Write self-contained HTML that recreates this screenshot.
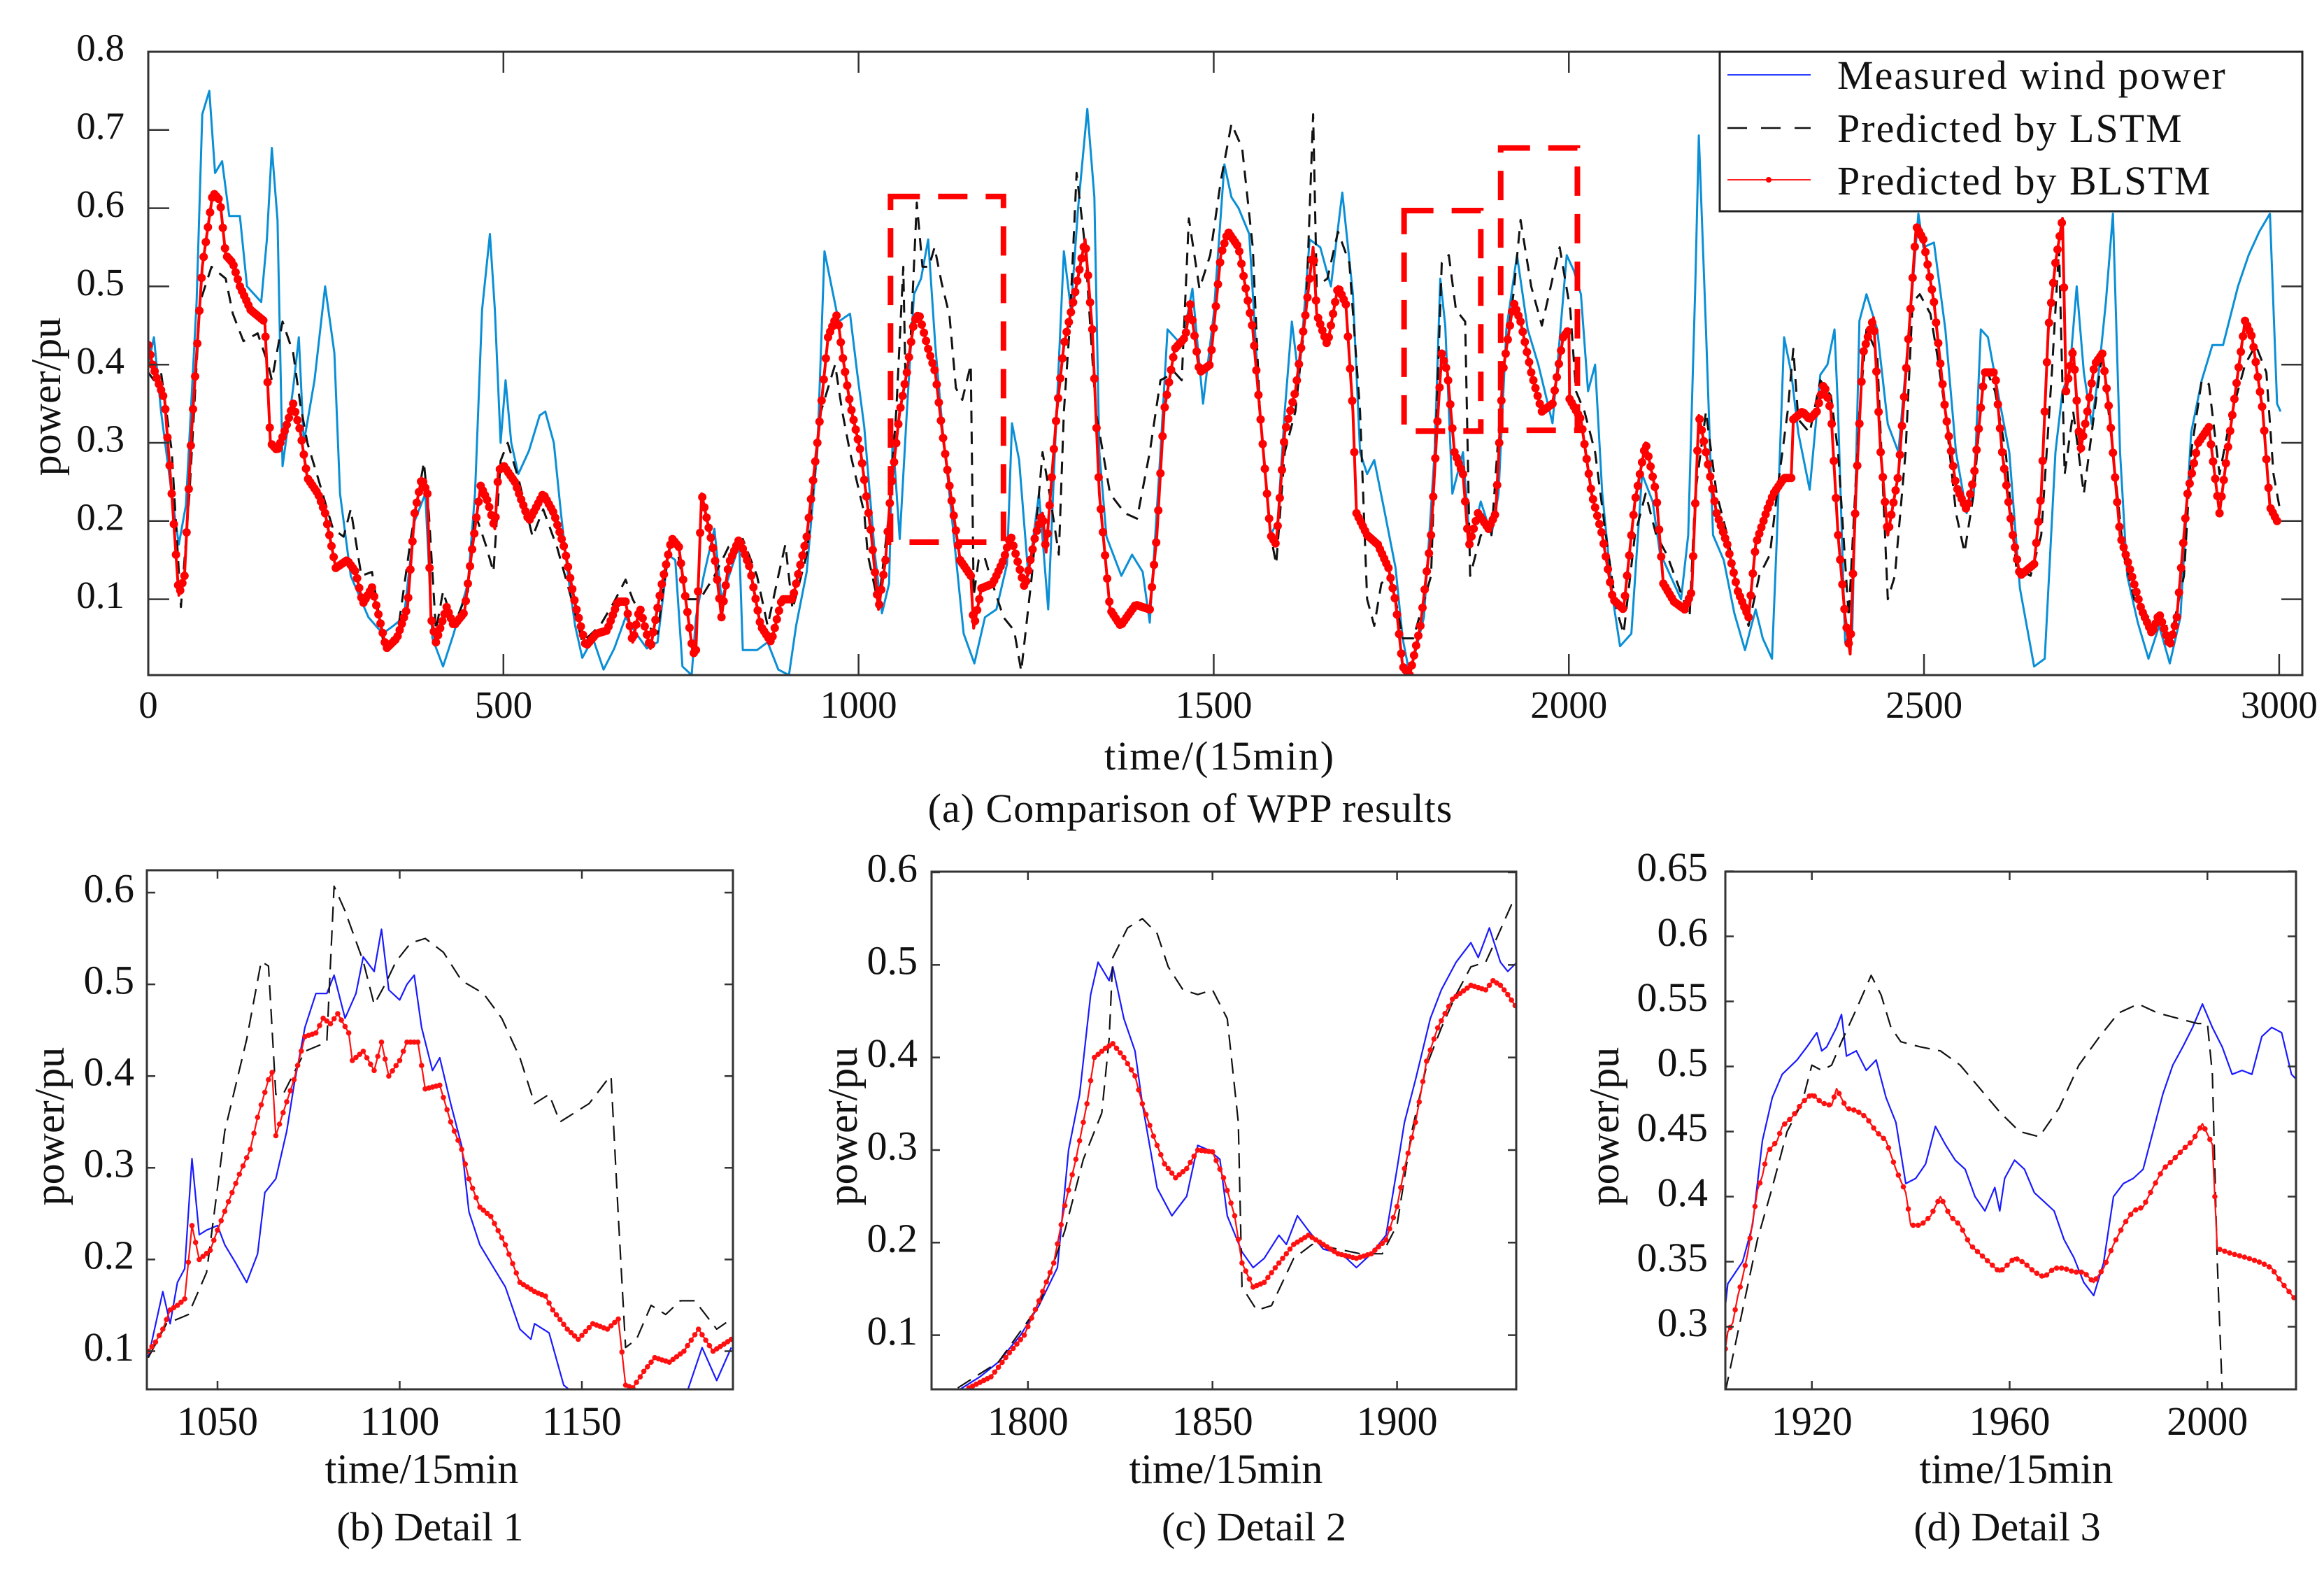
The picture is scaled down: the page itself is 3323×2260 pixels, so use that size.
<!DOCTYPE html>
<html><head><meta charset="utf-8">
<style>
html,body{margin:0;padding:0;background:#fff;}
svg, svg text{font-family:"Liberation Serif","Times New Roman",serif !important;}
svg text{fill:#111;}
</style></head>
<body>
<svg id="fig" xmlns="http://www.w3.org/2000/svg" width="3323" height="2255" viewBox="0 0 3323 2255" font-family="Liberation Serif, serif">
<rect x="0" y="0" width="3323" height="2255" fill="#fff"/>
<defs>
<clipPath id="clipMain"><rect x="212" y="74" width="3080" height="891"/></clipPath>
<clipPath id="clipD1"><rect x="210" y="1244" width="838" height="742"/></clipPath>
<clipPath id="clipD2"><rect x="1332" y="1246" width="836" height="740"/></clipPath>
<clipPath id="clipD3"><rect x="2467" y="1246" width="816" height="740"/></clipPath>
</defs>
<g id="main"></g>
<g id="d1"></g>
<g id="d2"></g>
<g id="d3"></g>

<text x="72" y="567" font-size="60" text-anchor="middle" dominant-baseline="middle" transform="rotate(-90 72 567)">power/pu</text>
<text x="1744" y="1100" font-size="58" letter-spacing="2" text-anchor="middle">time/(15min)</text>
<text x="1702" y="1175" font-size="58" letter-spacing="1" text-anchor="middle">(a) Comparison of WPP results</text>

<text x="77" y="1610" font-size="60" text-anchor="middle" dominant-baseline="middle" transform="rotate(-90 77 1610)">power/pu</text>
<text x="603" y="2120" font-size="60" text-anchor="middle">time/15min</text>
<text x="615" y="2202" font-size="58" text-anchor="middle">(b) Detail 1</text>

<text x="1211" y="1610" font-size="60" text-anchor="middle" dominant-baseline="middle" transform="rotate(-90 1211 1610)">power/pu</text>
<text x="1753" y="2120" font-size="60" text-anchor="middle">time/15min</text>
<text x="1793" y="2202" font-size="58" text-anchor="middle">(c) Detail 2</text>

<text x="2300" y="1610" font-size="60" text-anchor="middle" dominant-baseline="middle" transform="rotate(-90 2300 1610)">power/pu</text>
<text x="2883" y="2120" font-size="60" text-anchor="middle">time/15min</text>
<text x="2870" y="2202" font-size="58" text-anchor="middle">(d) Detail 3</text>

<g id="legend">
<rect x="2459" y="74" width="833" height="228" fill="#fff" stroke="#222" stroke-width="3"/>
<line x1="2470" y1="107" x2="2589" y2="107" stroke="#2a40ff" stroke-width="2"/>
<line x1="2470" y1="183" x2="2589" y2="183" stroke="#111" stroke-width="2.5" stroke-dasharray="28,20"/>
<line x1="2470" y1="257" x2="2589" y2="257" stroke="#ff2020" stroke-width="2"/>
<circle cx="2529" cy="257" r="4" fill="#ff0000"/>
<text x="2627" y="127" font-size="58" letter-spacing="2">Measured wind power</text>
<text x="2627" y="203" font-size="58" letter-spacing="2">Predicted by LSTM</text>
<text x="2627" y="278" font-size="58" letter-spacing="2">Predicted by BLSTM</text>
</g>
</svg>
<script>
// ===== Main chart data =====
const mainMeasT=[0,8,18,33,43,53,68,76,86,94,104,114,129,139,159,167,174,182,189,204,212,219,234,249,262,270,285,310,330,345,360,375,390,400,415,430,450,460,470,481,488,496,503,511,521,536,551,559,571,581,591,601,611,626,641,656,672,687,702,717,732,742,752,765,771,782,797,807,832,837,857,872,887,902,912,927,942,952,962,972,988,998,1008,1023,1033,1043,1048,1058,1068,1078,1088,1098,1108,1118,1133,1148,1163,1178,1194,1209,1216,1226,1239,1254,1267,1279,1289,1299,1309,1322,1332,1339,1349,1370,1385,1400,1410,1425,1435,1455,1470,1485,1500,1515,1525,1535,1550,1565,1580,1590,1600,1610,1620,1635,1650,1665,1681,1696,1706,1716,1726,1741,1756,1766,1776,1796,1811,1819,1826,1836,1851,1861,1876,1891,1901,1912,1927,1942,1957,1977,1997,2007,2017,2027,2037,2047,2062,2072,2088,2103,2118,2128,2143,2158,2168,2178,2183,2193,2203,2218,2233,2248,2263,2273,2286,2293,2303,2313,2323,2339,2354,2364,2374,2379,2389,2399,2409,2419,2434,2449,2464,2479,2492,2499,2514,2530,2545,2560,2570,2580,2590,2605,2620,2635,2655,2670,2685,2695,2705,2715,2725,2736,2746,2756,2766,2776,2786,2801,2816,2831,2846,2861,2876,2891,2906,2921,2942,2957,2972,2987,2997,3002];
const mainMeasV=[.40,.435,.34,.235,.17,.22,.48,.72,.75,.645,.66,.59,.59,.50,.48,.56,.677,.585,.27,.37,.435,.30,.38,.50,.415,.235,.13,.077,.056,.066,.077,.20,.235,.05,.014,.056,.12,.235,.47,.567,.47,.30,.38,.30,.26,.29,.335,.34,.30,.21,.13,.066,.025,.05,.01,.037,.077,.056,.037,.045,.157,.15,.014,.003,.077,.13,.19,.10,.17,.035,.035,.045,.01,.003,.066,.135,.29,.545,.50,.455,.465,.39,.32,.157,.082,.12,.31,.177,.34,.49,.51,.56,.425,.32,.19,.056,.018,.077,.087,.145,.325,.278,.13,.235,.087,.345,.545,.47,.60,.727,.614,.288,.18,.13,.157,.135,.07,.288,.445,.425,.497,.35,.465,.656,.614,.60,.567,.34,.182,.20,.34,.455,.38,.56,.55,.50,.62,.49,.288,.26,.278,.21,.14,.05,.003,.077,.288,.51,.45,.235,.288,.167,.225,.182,.235,.445,.54,.445,.40,.325,.54,.52,.49,.366,.40,.235,.10,.04,.056,.26,.225,.16,.13,.10,.182,.50,.693,.445,.182,.15,.082,.035,.087,.05,.024,.182,.435,.39,.313,.24,.387,.40,.445,.34,.045,.06,.456,.49,.445,.324,.288,.445,.593,.55,.556,.445,.288,.21,.235,.445,.435,.36,.288,.114,.014,.024,.288,.366,.39,.50,.39,.324,.39,.48,.593,.288,.13,.07,.024,.066,.018,.077,.313,.38,.425,.425,.50,.54,.57,.593,.35,.34];
const mainLstmT=[0,8,18,33,46,58,73,89,109,119,134,154,169,174,189,204,214,224,239,260,275,285,300,315,330,350,370,388,395,405,415,430,450,460,475,486,496,506,521,541,556,576,596,611,636,656,672,682,702,717,732,742,757,777,797,817,837,857,872,887,897,907,927,947,967,977,988,1008,1013,1028,1043,1053,1063,1066,1073,1082,1090,1099,1107,1117,1128,1137,1146,1158,1162,1169,1177,1187,1204,1219,1229,1244,1259,1269,1282,1289,1297,1307,1319,1334,1354,1375,1392,1410,1425,1445,1455,1465,1480,1495,1510,1525,1540,1555,1565,1580,1588,1600,1615,1630,1640,1645,1660,1675,1691,1706,1716,1726,1736,1746,1756,1766,1781,1806,1821,1831,1841,1854,1861,1876,1891,1907,1922,1932,1947,1962,1977,1987,2002,2010,2022,2037,2052,2067,2077,2093,2108,2123,2138,2153,2170,2178,2193,2208,2223,2238,2253,2268,2283,2293,2308,2316,2323,2339,2354,2369,2379,2394,2409,2419,2434,2449,2459,2474,2484,2494,2509,2519,2530,2545,2557,2570,2585,2600,2615,2630,2650,2665,2680,2690,2698,2710,2725,2740,2751,2766,2781,2796,2816,2836,2851,2866,2876,2891,2901,2916,2931,2952,2967,2982,2992,3002];
const mainLstmV=[.39,.38,.39,.29,.09,.235,.48,.525,.51,.465,.43,.44,.40,.38,.455,.415,.35,.30,.255,.19,.18,.215,.13,.135,.05,.05,.18,.275,.21,.06,.11,.066,.11,.21,.17,.135,.277,.30,.255,.18,.215,.165,.10,.045,.066,.097,.125,.10,.066,.056,.16,.178,.10,.10,.13,.167,.177,.13,.066,.13,.17,.087,.157,.34,.40,.34,.288,.21,.157,.093,.21,.34,.525,.38,.427,.607,.525,.525,.55,.504,.463,.37,.355,.40,.104,.15,.155,.124,.077,.06,.008,.13,.288,.235,.157,.34,.445,.645,.55,.34,.235,.21,.203,.288,.38,.39,.38,.587,.497,.54,.635,.708,.677,.55,.34,.182,.145,.288,.34,.47,.72,.50,.51,.57,.53,.34,.10,.066,.12,.13,.10,.05,.05,.13,.53,.54,.47,.455,.13,.182,.182,.39,.49,.585,.50,.45,.51,.55,.47,.366,.34,.288,.182,.087,.056,.182,.235,.182,.157,.12,.077,.235,.34,.235,.182,.11,.066,.13,.157,.235,.34,.42,.33,.313,.38,.36,.288,.077,.34,.445,.414,.10,.13,.288,.48,.49,.465,.41,.34,.21,.16,.235,.40,.366,.288,.14,.13,.182,.39,.55,.26,.34,.235,.34,.414,.288,.157,.10,.077,.066,.066,.13,.288,.38,.375,.26,.33,.40,.425,.39,.26,.21];
const mainBlstmT=[0,6,13,23,33,43,51,61,76,91,101,109,119,129,144,164,172,182,194,204,214,224,239,249,264,280,292,302,315,325,335,350,365,375,385,393,398,405,420,430,445,455,468,478,488,493,501,516,536,556,571,586,601,616,631,646,661,672,682,692,707,722,737,747,757,767,771,779,787,797,807,817,832,847,862,877,892,907,927,942,957,970,977,988,1003,1018,1028,1038,1045,1058,1068,1078,1085,1098,1108,1118,1128,1143,1158,1162,1173,1189,1204,1214,1234,1249,1259,1264,1279,1289,1304,1319,1329,1339,1354,1369,1390,1410,1420,1430,1445,1460,1467,1480,1495,1510,1520,1535,1555,1570,1580,1588,1600,1615,1630,1640,1645,1660,1675,1686,1696,1701,1716,1731,1746,1756,1766,1776,1791,1806,1814,1821,1829,1839,1851,1859,1872,1887,1897,1907,1922,1932,1947,1962,1977,1992,2000,2001,2017,2032,2047,2062,2077,2093,2108,2123,2133,2148,2163,2173,2183,2193,2208,2223,2238,2253,2263,2279,2288,2303,2313,2316,2329,2339,2349,2359,2369,2379,2389,2396,2404,2414,2429,2439,2449,2464,2479,2489,2499,2514,2530,2545,2560,2570,2585,2600,2610,2625,2635,2655,2665,2675,2685,2695,2700,2710,2720,2730,2740,2751,2761,2776,2791,2806,2821,2831,2846,2856,2871,2886,2901,2916,2927,2942,2952,2962,2977,2987,2997];
const mainBlstmV=[.425,.40,.38,.355,.235,.105,.13,.315,.525,.62,.61,.54,.53,.50,.47,.455,.30,.29,.32,.35,.315,.255,.235,.21,.14,.15,.135,.094,.115,.077,.037,.05,.09,.21,.255,.235,.077,.045,.09,.066,.083,.157,.245,.225,.19,.265,.27,.25,.20,.235,.21,.165,.094,.04,.056,.06,.097,.097,.045,.09,.037,.115,.178,.167,.097,.03,.035,.235,.20,.157,.077,.145,.177,.14,.066,.045,.10,.10,.18,.30,.435,.465,.414,.35,.288,.182,.087,.15,.235,.34,.39,.455,.465,.42,.39,.313,.245,.15,.13,.063,.114,.12,.15,.182,.114,.182,.21,.16,.34,.425,.488,.56,.445,.235,.087,.066,.093,.087,.182,.34,.42,.435,.477,.39,.40,.54,.57,.55,.445,.288,.182,.17,.313,.366,.47,.55,.465,.425,.50,.477,.34,.21,.182,.17,.14,.097,.014,.003,.066,.182,.313,.414,.39,.288,.26,.167,.21,.19,.21,.39,.48,.455,.39,.34,.35,.435,.445,.356,.33,.235,.182,.10,.087,.225,.30,.235,.12,.097,.087,.11,.335,.288,.21,.17,.11,.077,.17,.214,.235,.255,.255,.33,.34,.33,.34,.376,.34,.182,.077,.03,.235,.414,.46,.288,.182,.26,.445,.577,.56,.48,.34,.245,.214,.255,.39,.39,.288,.182,.13,.145,.235,.445,.53,.587,.366,.42,.288,.34,.40,.414,.34,.182,.135,.087,.056,.082,.04,.077,.235,.30,.32,.21,.288,.39,.456,.435,.34,.218,.20];
const mainYTicks=[0.1,0.2,0.3,0.4,0.5,0.6,0.7,0.8];
const mainXTicks=[0,500,1000,1500,2000,2500,3000];
// zoom boxes (time start, time end, value low, value high)
const boxT0=[1045,1768,1904];
const boxT1=[1204,1876,2012];
const boxVlo=[0.173,0.315,0.316];
const boxVhi=[0.615,0.597,0.677];

// ===== Detail 1 data =====
const d1MeasT=[1031,1035,1037,1039,1041,1043,1045,1047,1050,1052,1055,1058,1061,1063,1066,1069,1071,1074,1077,1080,1082,1085,1088,1090,1093,1095,1097,1100,1102,1104,1106,1109,1111,1114,1117,1119,1122,1125,1129,1133,1136,1137,1141,1145,1149,1156,1165,1179,1183,1187,1191];
const d1MeasV=[.093,.165,.13,.175,.19,.31,.227,.232,.237,.216,.196,.175,.206,.273,.288,.34,.39,.453,.49,.49,.51,.463,.49,.53,.514,.56,.494,.483,.50,.51,.453,.406,.42,.37,.324,.252,.216,.196,.17,.124,.113,.13,.12,.063,.05,.04,.04,.057,.104,.068,.104];
const d1LstmT=[1031,1036,1042,1047,1052,1058,1062,1064,1066,1068,1074,1080,1082,1085,1090,1093,1096,1099,1103,1107,1112,1117,1123,1128,1133,1137,1141,1144,1146,1152,1157,1158,1160,1162,1165,1169,1173,1177,1181,1187,1191];
const d1LstmV=[.093,.13,.14,.186,.34,.44,.525,.52,.38,.38,.427,.437,.607,.58,.525,.478,.50,.525,.545,.55,.535,.504,.49,.463,.42,.37,.38,.35,.355,.37,.396,.40,.247,.104,.113,.15,.14,.155,.155,.124,.135];
const d1BlstmT=[1031,1033,1035,1037,1039,1041,1043,1045,1048,1050,1053,1056,1059,1061,1064,1065,1066,1068,1071,1074,1077,1079,1081,1083,1086,1087,1090,1093,1095,1097,1100,1102,1105,1107,1111,1114,1117,1119,1122,1125,1129,1133,1137,1140,1142,1146,1149,1153,1157,1160,1162,1164,1167,1170,1174,1178,1182,1186,1191];
const d1BlstmV=[.10,.11,.124,.145,.15,.157,.237,.20,.21,.232,.263,.293,.32,.355,.396,.404,.335,.36,.396,.443,.447,.463,.457,.468,.447,.417,.427,.406,.437,.40,.417,.437,.437,.386,.39,.35,.32,.288,.257,.247,.216,.175,.165,.16,.145,.124,.113,.13,.124,.135,.063,.06,.078,.093,.088,.10,.124,.10,.113];
const d1XTicks=[1050,1100,1150];
const d1YTicks=[0.1,0.2,0.3,0.4,0.5,0.6];

// ===== Detail 2 data =====
const d2MeasT=[1781,1787,1792,1798,1803,1808,1811,1814,1817,1819,1822,1823,1826,1829,1831,1835,1839,1843,1846,1849,1852,1854,1858,1861,1864,1868,1870,1873,1876,1880,1885,1889,1893,1897,1900,1902,1905,1909,1912,1916,1920,1922,1925,1928,1930,1933];
const d2MeasV=[.04,.055,.071,.10,.132,.173,.30,.36,.468,.503,.483,.498,.442,.407,.35,.259,.229,.25,.305,.30,.29,.229,.19,.173,.183,.208,.198,.229,.213,.193,.188,.173,.188,.208,.28,.33,.376,.442,.473,.503,.524,.508,.54,.503,.493,.505];
const d2LstmT=[1781,1792,1803,1810,1815,1820,1822,1823,1827,1831,1835,1838,1842,1846,1850,1854,1857,1858,1862,1866,1872,1877,1884,1890,1896,1900,1904,1908,1912,1916,1920,1924,1927,1931,1933];
const d2LstmV=[.043,.071,.132,.213,.29,.34,.42,.508,.54,.55,.534,.498,.473,.468,.473,.442,.33,.152,.127,.132,.183,.198,.193,.188,.188,.219,.32,.391,.432,.468,.498,.503,.529,.565,.56];
const d2BlstmT=[1784,1790,1795,1799,1803,1807,1810,1813,1816,1818,1821,1823,1826,1829,1831,1834,1837,1840,1843,1846,1850,1853,1856,1858,1861,1864,1868,1872,1876,1880,1884,1889,1893,1897,1900,1902,1905,1908,1911,1915,1920,1924,1926,1928,1930,1933];
const d2BlstmV=[.043,.055,.081,.10,.137,.178,.24,.29,.35,.40,.41,.415,.40,.38,.35,.315,.285,.27,.28,.30,.298,.27,.229,.178,.152,.157,.178,.198,.208,.198,.188,.183,.188,.203,.239,.28,.33,.396,.432,.463,.478,.473,.483,.478,.468,.45];
const d2XTicks=[1800,1850,1900];
const d2YTicks=[0.1,0.2,0.3,0.4,0.5,0.6];

// ===== Detail 3 data =====
const d3MeasT=[1902.5,1903,1906,1908,1910,1912,1914,1917,1919,1921,1922,1923,1925,1926,1927,1929,1931,1933,1935,1937,1939,1941,1943,1945,1947,1949,1951,1953,1955,1957,1958,1959,1961,1963,1965,1967,1969,1971,1973,1975,1977,1979,1981,1983,1985,1987,1989,1991,1993,1995,1997,1999,2001,2003,2005,2007,2009,2011,2013,2015,2017,2018];
const d3MeasV=[.316,.333,.35,.378,.443,.476,.494,.505,.515,.526,.512,.515,.53,.54,.508,.512,.497,.505,.476,.457,.41,.414,.425,.454,.44,.428,.421,.40,.389,.407,.389,.414,.428,.421,.403,.396,.389,.367,.353,.334,.324,.349,.40,.41,.414,.421,.45,.479,.501,.515,.53,.548,.53,.515,.494,.497,.494,.523,.53,.526,.494,.49];
const d3LstmT=[1902.5,1906,1909,1912,1915,1918,1920,1922,1924,1926,1929,1932,1934,1936,1938,1942,1946,1950,1954,1958,1962,1966,1970,1974,1978,1982,1986,1990,1994,1998,2000,2001,2002,2003];
const d3LstmV=[.25,.313,.367,.407,.45,.472,.501,.497,.501,.519,.544,.57,.555,.53,.519,.515,.512,.501,.483,.465,.45,.446,.468,.501,.522,.541,.548,.541,.537,.533,.533,.494,.35,.25];
const d3BlstmT=[1902.5,1903,1904,1905,1906,1907,1908,1909,1910,1911,1913,1914,1916,1918,1920,1922,1924,1925,1927,1929,1931,1933,1935,1937,1939,1940,1942,1944,1946,1948,1950,1952,1954,1956,1958,1960,1961,1963,1965,1967,1969,1971,1973,1975,1977,1979,1981,1983,1985,1987,1989,1991,1993,1995,1997,1999,2001,2002,2005,2008,2011,2013,2015,2018];
const d3BlstmV=[.283,.296,.303,.323,.338,.356,.38,.405,.416,.434,.443,.454,.461,.472,.479,.472,.47,.483,.468,.466,.461,.45,.443,.421,.403,.378,.378,.385,.40,.385,.378,.363,.356,.349,.342,.349,.353,.349,.342,.338,.345,.345,.342,.342,.334,.345,.363,.378,.389,.392,.407,.421,.428,.436,.443,.456,.44,.36,.356,.353,.349,.345,.334,.32];
const d3XTicks=[1920,1960,2000];
const d3YTicks=[0.3,0.35,0.4,0.45,0.5,0.55,0.6,0.65];

const NS='http://www.w3.org/2000/svg';
const FONT='Liberation Serif, serif';
function mk(tag,attrs,parent){const e=document.createElementNS(NS,tag);for(const k in attrs)e.setAttribute(k,attrs[k]);parent.appendChild(e);return e;}
function linScale(d0,d1,r0,r1){return v=>r0+(v-d0)*(r1-r0)/(d1-d0);}

function pathD(ts,vs,xs,ys){let d='';for(let i=0;i<ts.length;i++){d+=(i?'L':'M')+xs(ts[i]).toFixed(1)+','+ys(vs[i]).toFixed(1);}return d;}
function resample(ts,vs,step){const out=[];let j=0;for(let t=ts[0];t<=ts[ts.length-1];t+=step){while(j<ts.length-2&&ts[j+1]<t)j++;const f=(t-ts[j])/((ts[j+1]-ts[j])||1);out.push([t,vs[j]+(vs[j+1]-vs[j])*Math.max(0,Math.min(1,f))]);}return out;}

function axes(g,box,xs,ys,xt,yt,fmtY,tickLen,fs,prefix,yLabelX,xLabelY){
  const [L,T,R,B]=box;
  const fr=mk('rect',{x:L,y:T,width:R-L,height:B-T,fill:'none',stroke:'#333','stroke-width':3},g);
  
  
  xt.forEach(t=>{const x=xs(t);
    const a=mk('line',{x1:x,y1:B,x2:x,y2:B-tickLen,stroke:'#333','stroke-width':2.5},g);
    
    
    const b=mk('line',{x1:x,y1:T,x2:x,y2:T+tickLen,stroke:'#333','stroke-width':2.5},g);
    
    
    const tx=mk('text',{x:x,y:xLabelY,'font-size':fs,'text-anchor':'middle','font-family':FONT},g);tx.textContent=String(t);
    
    
  });
  yt.forEach(v=>{const y=ys(v);
    const a=mk('line',{x1:L,y1:y,x2:L+tickLen,y2:y,stroke:'#333','stroke-width':2.5},g);
    
    
    const b=mk('line',{x1:R,y1:y,x2:R-tickLen,y2:y,stroke:'#333','stroke-width':2.5},g);
    
    
    const tx=mk('text',{x:yLabelX,y:y,'font-size':fs,'text-anchor':'end','dominant-baseline':'middle','font-family':FONT},g);tx.textContent=fmtY(v);
    
    
  });
}

function series(g,clip,ts,vs,xs,ys,opt,prefix,name){
  const sg=mk('g',{'clip-path':'url(#'+clip+')'},g);
  
  
  const p=mk('path',{d:pathD(ts,vs,xs,ys),fill:'none',stroke:opt.color,'stroke-width':opt.w,'stroke-linejoin':'round'},sg);
  if(opt.dash)p.setAttribute('stroke-dasharray',opt.dash);
  
  
  if(opt.marker){
    resample(ts,vs,opt.step).forEach(([t,v])=>{
      const c=mk('circle',{cx:xs(t).toFixed(1),cy:ys(v).toFixed(1),r:opt.marker,fill:opt.color},sg);
      
      
    });
  }
}

// ---- main chart ----
(function(){
  const g=document.getElementById('main');
  const xs=linScale(0,3000,212,3258.9), ys=linScale(0.8,0.1,74,856.6);
  series(g,'clipMain',mainMeasT,mainMeasV,xs,ys,{color:'#0a8fd6',w:3},'main','measured');
  series(g,'clipMain',mainLstmT,mainLstmV,xs,ys,{color:'#111',w:3,dash:'18,12'},'main','lstm');
  series(g,'clipMain',mainBlstmT,mainBlstmV,xs,ys,{color:'#ff0000',w:4,marker:6,step:3},'main','blstm');
  for(let i=0;i<boxT0.length;i++){
    const x0=xs(boxT0[i]),x1=xs(boxT1[i]),y0=ys(boxVhi[i]),y1=ys(boxVlo[i]);
    const r=mk('rect',{x:x0,y:y0,width:x1-x0,height:y1-y0,fill:'none',stroke:'#ff0000','stroke-width':8,'stroke-dasharray':'42,26'},g);
    
    
  }
  axes(g,[212,74,3292,965],xs,ys,mainXTicks,mainYTicks,v=>v.toFixed(1),30,55,'main',178,1026);
  document.getElementById('fig').appendChild(document.getElementById('legend'));
})();

// ---- details ----
function detail(id,clip,box,xs,ys,data,xt,yt,fmt,ylx){
  const g=document.getElementById(id);
  series(g,clip,data[0],data[1],xs,ys,{color:'#1a1aff',w:2.2},id,'measured');
  series(g,clip,data[2],data[3],xs,ys,{color:'#111',w:2.2,dash:'22,12'},id,'lstm');
  series(g,clip,data[4],data[5],xs,ys,{color:'#ff1010',w:2.2,marker:3.8,step:1},id,'blstm');
  axes(g,box,xs,ys,xt,yt,fmt,12,58,id,ylx,2051);
}
detail('d1','clipD1',[210,1244,1048,1986],linScale(1050,1100,311,571.5),linScale(0.6,0.1,1276,1931.5),
  [d1MeasT,d1MeasV,d1LstmT,d1LstmV,d1BlstmT,d1BlstmV],d1XTicks,d1YTicks,v=>v.toFixed(1),192);
detail('d2','clipD2',[1332,1246,2168,1986],linScale(1800,1850,1469.8,1733.7),linScale(0.6,0.1,1247,1908.6),
  [d2MeasT,d2MeasV,d2LstmT,d2LstmV,d2BlstmT,d2BlstmV],d2XTicks,d2YTicks,v=>v.toFixed(1),1312);
detail('d3','clipD3',[2467,1246,3283,1986],linScale(1920,1960,2590.7,2873.5),linScale(0.3,0.65,1896.5,1245.5),
  [d3MeasT,d3MeasV,d3LstmT,d3LstmV,d3BlstmT,d3BlstmV],d3XTicks,d3YTicks,v=>String(+v.toFixed(2)),2442);
</script>
</body></html>
